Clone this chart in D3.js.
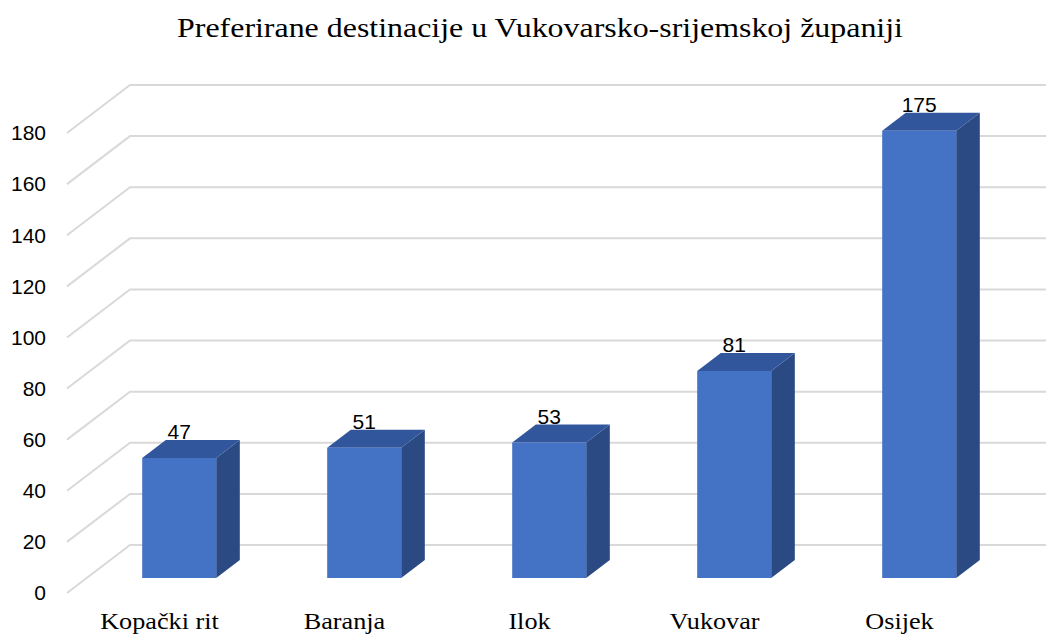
<!DOCTYPE html>
<html>
<head>
<meta charset="utf-8">
<script src="https://cdn.jsdelivr.net/npm/d3@7"></script>
<style>
  html, body { margin: 0; padding: 0; background: #ffffff; }
  svg { display: block; }
</style>
</head>
<body>
<svg id="chart" width="1046" height="635"></svg>
<script>
// ---- data ----
const title = "Preferirane destinacije u Vukovarsko-srijemskoj županiji";
const categories = ["Kopački rit", "Baranja", "Ilok", "Vukovar", "Osijek"];
const values = [47, 51, 53, 81, 175];
const yTicks = [0, 20, 40, 60, 80, 100, 120, 140, 160, 180];

// ---- layout ----
const W = 1046, H = 635;
const svg = d3.select("#chart");

const frontLeft = 67, frontRight = 992;
const depthDX = 63, depthDY = -48;        // offset from front plane to back wall
const barD1 = 0.3125, barD2 = 0.6875;     // bar depth fractions

const x = d3.scaleBand().domain(categories).range([frontLeft, frontRight]).paddingInner(0).paddingOuter(0);
const y = d3.scaleLinear().domain([0, 180]).range([593, 133]);

const proj = (px, v, d) => [px + d * depthDX, y(v) + d * depthDY];

// gridlines
const grid = svg.append("g");
yTicks.forEach(t => {
  const f = proj(frontLeft, t, 0), b = proj(frontLeft, t, 1);
  grid.append("path")
    .attr("d", `M${f[0]},${f[1]}L${b[0]},${b[1]}L${W},${b[1]}`)
    .attr("fill", "none").attr("stroke", "#d9d9d9").attr("stroke-width", 2);
});

// y labels
svg.append("g").selectAll("text").data(yTicks).join("text")
  .attr("x", 46).attr("y", d => y(d))
  .attr("dy", "0.35em")
  .attr("text-anchor", "end")
  .attr("font-family", "'Liberation Sans', Arial, sans-serif")
  .attr("font-size", 21).attr("fill", "#000")
  .text(d => d);

// bars
const barW = x.bandwidth() * 0.4;
const bars = svg.append("g");
categories.forEach((c, i) => {
  const v = values[i];
  const x0 = x(c) + (x.bandwidth() - barW) / 2, x1 = x0 + barW;
  const flt = proj(x0, v, barD1), frt = proj(x1, v, barD1);
  const brt = proj(x1, v, barD2), blt = proj(x0, v, barD2);
  const frb = proj(x1, 0, barD1), brb = proj(x1, 0, barD2);
  const flb = proj(x0, 0, barD1);
  const poly = pts => "M" + pts.map(p => p.join(",")).join("L") + "Z";
  bars.append("path").attr("d", poly([frt, brt, brb, frb])).attr("fill", "#2b4a83");
  bars.append("path").attr("d", poly([flt, frt, brt, blt])).attr("fill", "#31569b");
  bars.append("path").attr("d", poly([flt, frt, frb, flb])).attr("fill", "#4472c4");
  svg.append("text")
    .attr("x", (x0 + x1) / 2 + barD1 * depthDX)
    .attr("y", brt[1] - 1)
    .attr("text-anchor", "middle")
    .attr("font-family", "'Liberation Sans', Arial, sans-serif")
    .attr("font-size", 21).attr("fill", "#000")
    .text(v);
});

// category labels
svg.append("g").selectAll("text").data(categories).join("text")
  .attr("transform", d => `translate(${x(d) + x.bandwidth() / 2},629) scale(1.14,1)`)
  .attr("text-anchor", "middle")
  .attr("font-family", "'Liberation Serif', 'Times New Roman', serif")
  .attr("font-size", 23).attr("fill", "#000")
  .text(d => d);

// title
svg.append("text")
  .attr("transform", `translate(540,37) scale(1.14,1)`)
  .attr("text-anchor", "middle")
  .attr("font-family", "'Liberation Serif', 'Times New Roman', serif")
  .attr("font-size", 28).attr("fill", "#000")
  .text(title);
</script>
</body>
</html>
